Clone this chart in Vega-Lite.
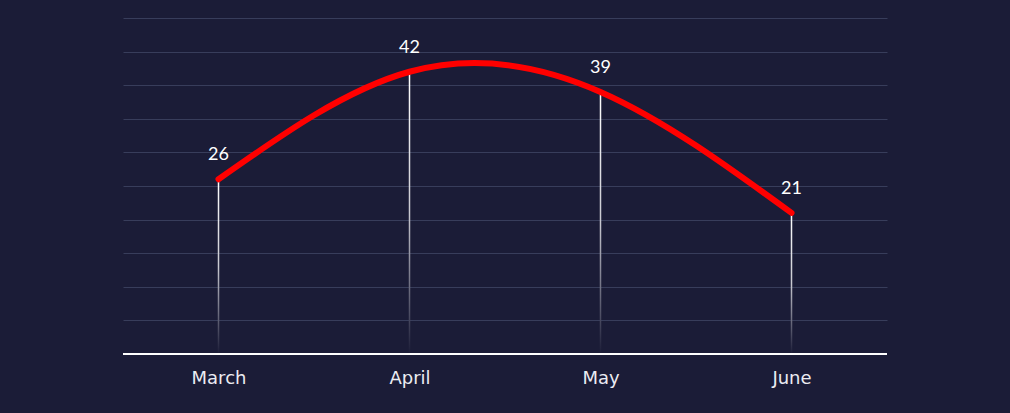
{
  "$schema": "https://vega.github.io/schema/vega-lite/v6.json",
  "autosize": {"type": "none"},
  "width": 764,
  "height": 336,
  "padding": {"left": 123, "top": 18, "right": 123, "bottom": 59},
  "background": "#1b1c37",
  "config": {
    "view": {"stroke": null},
    "font": "Lato"
  },
  "data": {
    "values": [
      {"month": "March", "value": 26},
      {"month": "April", "value": 42},
      {"month": "May", "value": 39},
      {"month": "June", "value": 21}
    ]
  },
  "encoding": {
    "x": {
      "field": "month",
      "type": "ordinal",
      "sort": null,
      "scale": {"type": "point", "padding": 0.5},
      "axis": {
        "title": null,
        "labelAngle": 0,
        "labelColor": "#ececf2",
        "labelFontSize": 18,
        "labelFont": "DejaVu Sans",
        "labelFontWeight": "normal",
        "labelPadding": 15,
        "ticks": false,
        "domain": false,
        "grid": false
      }
    },
    "y": {
      "field": "value",
      "type": "quantitative",
      "scale": {"domain": [0, 50], "nice": false},
      "axis": {
        "title": null,
        "labels": false,
        "ticks": false,
        "domain": false,
        "values": [5, 10, 15, 20, 25, 30, 35, 40, 45, 50],
        "gridColor": "#383d5b",
        "gridWidth": 1.2,
        "gridOpacity": 1
      }
    }
  },
  "layer": [
    {
      "mark": {
        "type": "bar",
        "size": 1.5,
        "color": {
          "gradient": "linear",
          "x1": 0, "y1": 0, "x2": 0, "y2": 1,
          "stops": [
            {"offset": 0, "color": "#ffffff"},
            {"offset": 0.5, "color": "#c8c8d0"},
            {"offset": 1, "color": "#1b1c37"}
          ]
        }
      },
      "encoding": {"y2": {"datum": 0}}
    },
    {
      "mark": {"type": "rule", "color": "#ffffff", "strokeWidth": 2},
      "encoding": {"y": {"datum": 0}, "x": {"value": 0}, "x2": {"value": 764}}
    },
    {
      "mark": {
        "type": "line",
        "color": "#ff0000",
        "strokeWidth": 6,
        "strokeCap": "round",
        "interpolate": "natural"
      },
      "encoding": {}
    },
    {
      "mark": {
        "type": "text",
        "color": "#ffffff",
        "fontSize": 18,
        "dy": -24,
        "font": "Lato"
      },
      "encoding": {"text": {"field": "value", "type": "quantitative"}}
    }
  ]
}
